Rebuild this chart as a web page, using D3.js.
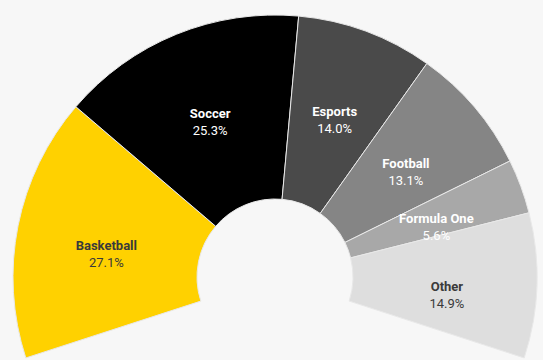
<!DOCTYPE html>
<html>
<head>
<meta charset="utf-8">
<script src="https://cdn.jsdelivr.net/npm/d3@7/dist/d3.min.js"></script>
<style>
  html, body { margin: 0; padding: 0; background: #f7f7f7; }
  svg { display: block; }
</style>
</head>
<body>
<svg id="chart" width="543" height="360"></svg>
<script>
// Share of fans by sport
const categories = ["Basketball", "Soccer", "Esports", "Football", "Formula One", "Other"];
const shares = [27.1, 25.3, 14.0, 13.1, 5.6, 14.9];
const fills = ["#ffd100", "#000000", "#4a4a4a", "#858585", "#a8a8a8", "#dedede"];
const labelColors = ["#3a3a3a", "#ffffff", "#ffffff", "#ffffff", "#ffffff", "#3a3a3a"];

const width = 543, height = 360;
const cx = 275, cy = 277;
const innerR = 78, outerR = 262;
// labels sit on a slightly taller oval than the ring itself
const labelRx = 172, labelRy = 180, labelDy = 12;

const svg = d3.select("#chart");
svg.append("rect").attr("width", width).attr("height", height).attr("fill", "#f7f7f7");

const data = categories.map((c, i) => ({ name: c, value: shares[i], fill: fills[i], text: labelColors[i] }));

const pie = d3.pie()
  .value(d => d.value)
  .sort(null)
  .startAngle(-0.6 * Math.PI)
  .endAngle(0.6 * Math.PI);

const arc = d3.arc().innerRadius(innerR).outerRadius(outerR);

const g = svg.append("g").attr("transform", `translate(${cx},${cy})`);
const arcs = pie(data);

g.selectAll("path.slice")
  .data(arcs)
  .join("path")
  .attr("class", "slice")
  .attr("d", arc)
  .attr("fill", d => d.data.fill)
  .attr("stroke", "#e8e8e8")
  .attr("stroke-width", 1);

function labelPos(d) {
  const a = (d.startAngle + d.endAngle) / 2;
  return [labelRx * Math.sin(a), labelDy - labelRy * Math.cos(a)];
}

const labels = g.selectAll("text.label")
  .data(arcs)
  .join("text")
  .attr("class", "label")
  .attr("transform", d => `translate(${labelPos(d)})`)
  .attr("text-anchor", "middle")
  .attr("font-family", "Roboto, sans-serif")
  .attr("font-size", 13)
  .attr("fill", d => d.data.text);

labels.append("tspan")
  .attr("x", 0)
  .attr("y", -4)
  .attr("font-weight", 700)
  .text(d => d.data.name);

labels.append("tspan")
  .attr("x", 0)
  .attr("y", 13)
  .attr("font-weight", 400)
  .text(d => d.data.value.toFixed(1) + "%");
</script>
</body>
</html>
